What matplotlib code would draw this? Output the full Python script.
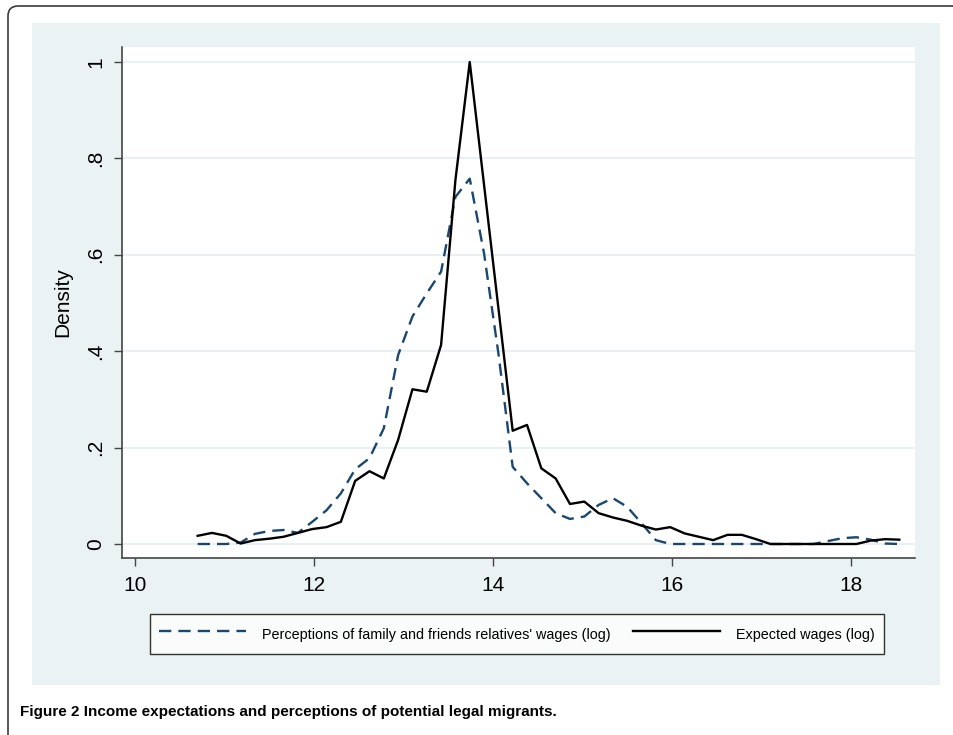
import matplotlib
matplotlib.use("Agg")
import matplotlib.pyplot as plt
from matplotlib.patches import Rectangle, FancyBboxPatch

# kdensity evaluation points (log wages)
log_wage = [10.70, 10.86, 11.02, 11.18, 11.34, 11.50, 11.66, 11.82, 11.98, 12.14,
            12.30, 12.46, 12.62, 12.78, 12.94, 13.10, 13.26, 13.42, 13.58, 13.74,
            13.90, 14.06, 14.22, 14.38, 14.54, 14.70, 14.86, 15.02, 15.18, 15.34,
            15.50, 15.66, 15.82, 15.98, 16.14, 16.30, 16.46, 16.62, 16.78, 16.94,
            17.10, 17.26, 17.42, 17.58, 17.74, 17.90, 18.06, 18.22, 18.38, 18.54]

perceived_density = [0.000, 0.000, 0.000, 0.003, 0.021, 0.027, 0.029, 0.023, 0.046, 0.070,
                     0.105, 0.155, 0.178, 0.240, 0.392, 0.472, 0.520, 0.565, 0.720, 0.758,
                     0.603, 0.396, 0.160, 0.126, 0.095, 0.064, 0.052, 0.057, 0.081, 0.095,
                     0.077, 0.043, 0.008, 0.000, 0.000, 0.000, 0.000, 0.000, 0.000, 0.000,
                     0.000, 0.000, 0.000, 0.000, 0.006, 0.012, 0.014, 0.009, 0.001, 0.000]

expected_density = [0.017, 0.023, 0.017, 0.001, 0.008, 0.011, 0.015, 0.023, 0.031, 0.035,
                    0.046, 0.131, 0.151, 0.136, 0.216, 0.321, 0.316, 0.413, 0.755, 1.000,
                    0.745, 0.490, 0.235, 0.247, 0.157, 0.136, 0.083, 0.088, 0.064, 0.055,
                    0.048, 0.038, 0.030, 0.035, 0.022, 0.015, 0.008, 0.019, 0.019, 0.010,
                    0.000, 0.000, 0.000, 0.000, 0.000, 0.000, 0.000, 0.007, 0.010, 0.009]

x_ticks = [10, 12, 14, 16, 18]
y_ticks = [0, 0.2, 0.4, 0.6, 0.8, 1.0]
y_tick_labels = ["0", ".2", ".4", ".6", ".8", "1"]

legend_labels = ["Perceptions of family and friends relatives' wages (log)",
                 "Expected wages (log)"]
caption = "Figure 2 Income expectations and perceptions of potential legal migrants."

navy = "#1a476f"
region_bg = "#eaf2f3"
grid_col = "#e8f0f3"
axis_col = "#444444"

plt.rcParams['font.family'] = ['Liberation Sans', 'DejaVu Sans']

W, H = 954, 735
fig = plt.figure(figsize=(W / 100, H / 100), dpi=100)
fig.patch.set_facecolor("white")

# background layer in pixel coordinates
bg = fig.add_axes([0, 0, 1, 1], zorder=-5)
bg.set_xlim(0, W)
bg.set_ylim(H, 0)
bg.axis("off")
frame = FancyBboxPatch((8, 6), 1000, 740, boxstyle="round,pad=0,rounding_size=10",
                       facecolor="white", edgecolor="#3a3a3a", linewidth=1.2)
bg.add_patch(frame)
bg.add_patch(Rectangle((32, 23), 908, 662, facecolor=region_bg, edgecolor="none"))

# plot region
ax = fig.add_axes([122 / W, 1 - 558 / H, (915 - 122) / W, (558 - 47) / H])
ax.set_facecolor("white")

ax.plot(log_wage, perceived_density, color=navy, linewidth=1.7,
        linestyle=(0, (5.2, 3.0)), label=legend_labels[0])
ax.plot(log_wage, expected_density, color="black", linewidth=1.7,
        label=legend_labels[1])

ax.set_xlim(10 - 13 / 89.5, 10 + 780 / 89.5)
ax.set_ylim(-14 / 482, 497 / 482)

ax.set_xticks(x_ticks)
ax.set_yticks(y_ticks)
ax.set_yticklabels(y_tick_labels, rotation=90, va="center")
ax.tick_params(axis="both", direction="out", length=6, width=1, color=axis_col,
               labelsize=15)
ax.tick_params(axis="x", pad=7)
ax.tick_params(axis="y", pad=6)
ax.grid(axis="y", color=grid_col, linewidth=1.4)
ax.set_axisbelow(True)

for side in ["top", "right"]:
    ax.spines[side].set_visible(False)
for side in ["left", "bottom"]:
    ax.spines[side].set_color(axis_col)
    ax.spines[side].set_linewidth(1.2)

ax.set_ylabel("Density", fontsize=15, labelpad=10)

leg = ax.legend(loc="center", ncol=2, mode="expand",
                bbox_to_anchor=(150 / W, 1 - 656 / H, 734 / W, 44 / H),
                bbox_transform=fig.transFigure, fontsize=10.4, handlelength=6.0,
                handletextpad=1.1, handleheight=1.9, fancybox=False, frameon=True,
                borderaxespad=0, borderpad=0.65)
leg.get_frame().set_edgecolor("black")
leg.get_frame().set_linewidth(1.0)

fig.text(20 / W, 1 - 712 / H, caption, fontsize=11, fontweight="bold",
         va="center", ha="left")

fig.savefig("out.png", dpi=100, facecolor="white")
